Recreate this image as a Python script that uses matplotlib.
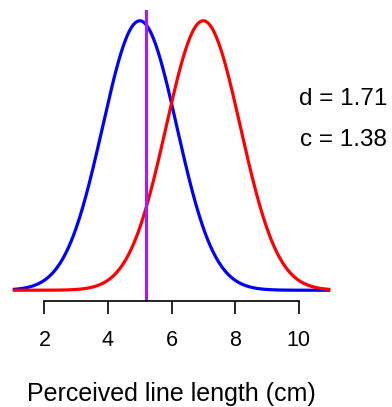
import numpy as np
import matplotlib
matplotlib.use('Agg')
from matplotlib import pyplot as plt

plt.rcParams['font.family'] = ['Liberation Sans', 'DejaVu Sans']

# signal detection: noise vs signal distributions
noise_mean = 5.0
signal_mean = 7.0
d_prime = 1.71
c_value = 1.38
criterion = 5.2
x_range = [1, 11]
ticks = [2, 4, 6, 8, 10]

sd = (signal_mean - noise_mean) / d_prime
x = np.linspace(x_range[0], x_range[1], 400)
noise = np.exp(-0.5 * ((x - noise_mean) / sd) ** 2) / (sd * np.sqrt(2 * np.pi))
signal = np.exp(-0.5 * ((x - signal_mean) / sd) ** 2) / (sd * np.sqrt(2 * np.pi))

fig = plt.figure(figsize=(3.92, 4.07), dpi=100)
ax = fig.add_axes([0.0, 0.2604, 0.875, 0.715])

ax.plot(x, noise, color='#0000FF', lw=2.3, solid_capstyle='butt')
ax.plot(x, signal, color='#FF0000', lw=2.3, solid_capstyle='butt')
ax.axvline(criterion, color='#A020F0', lw=2.3)

pad = 0.04 * (x_range[1] - x_range[0])
ax.set_xlim(x_range[0] - pad, x_range[1] + pad)
top = noise.max()
ax.set_ylim(-0.04 * top, 1.04 * top)

for s in ['top', 'right', 'left']:
    ax.spines[s].set_visible(False)
ax.spines['bottom'].set_bounds(ticks[0], ticks[-1])
ax.spines['bottom'].set_linewidth(1.2)
ax.set_yticks([])
ax.set_xticks(ticks)
ax.tick_params(axis='x', length=9, width=1.2, pad=12, labelsize=15.5)
ax.set_xlabel('Perceived line length (cm)', fontsize=18, labelpad=22)

ax.text(1.0, 0.695, 'd = %.2f' % d_prime, transform=ax.transAxes,
        fontsize=17.5, va='center', ha='center', clip_on=False)
ax.text(1.0, 0.553, 'c = %.2f' % c_value, transform=ax.transAxes,
        fontsize=17.5, va='center', ha='center', clip_on=False)

fig.savefig('out.png', dpi=100)
